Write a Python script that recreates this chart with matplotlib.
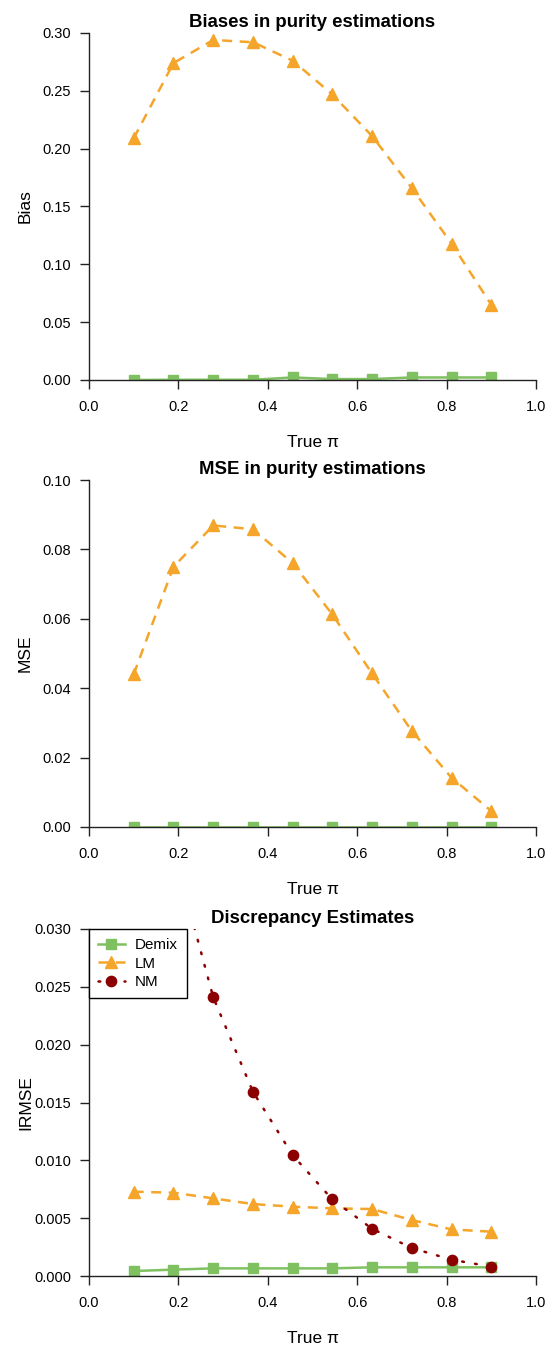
import matplotlib
matplotlib.use("Agg")
import matplotlib.pyplot as plt

plt.rcParams['font.family'] = ['Liberation Sans', 'DejaVu Sans']

true_pi = [0.1, 0.189, 0.278, 0.367, 0.456, 0.544, 0.633, 0.722, 0.811, 0.9]

bias_demix = [0.0, 0.0002, 0.0002, 0.0002, 0.0022, 0.0008, 0.0008, 0.0022, 0.0022, 0.0022]
bias_lm = [0.209, 0.274, 0.294, 0.292, 0.276, 0.247, 0.211, 0.166, 0.118, 0.065]

mse_demix = [0.0001, 0.0001, 0.0001, 0.0001, 0.0001, 0.0001, 0.0001, 0.0001, 0.0001, 0.0001]
mse_lm = [0.044, 0.075, 0.0869, 0.0858, 0.076, 0.0613, 0.0443, 0.0277, 0.0142, 0.0046]

irmse_demix = [0.00043, 0.00055, 0.00066, 0.00066, 0.00066, 0.00066, 0.00075, 0.00075, 0.00075, 0.00075]
irmse_lm = [0.00729, 0.0072, 0.00671, 0.00622, 0.00599, 0.00585, 0.00579, 0.00484, 0.00403, 0.00383]
irmse_nm = [0.0520, 0.0368, 0.02409, 0.01591, 0.01043, 0.00663, 0.00409, 0.00242, 0.00141, 0.00081]

x_ticks = [0.0, 0.2, 0.4, 0.6, 0.8, 1.0]
bias_ticks = [0.00, 0.05, 0.10, 0.15, 0.20, 0.25, 0.30]
mse_ticks = [0.00, 0.02, 0.04, 0.06, 0.08, 0.10]
irmse_ticks = [0.000, 0.005, 0.010, 0.015, 0.020, 0.025, 0.030]

GREEN = '#7FC160'
ORANGE = '#F4A52A'
DARKRED = '#8B0000'

W, H = 557, 1349
fig = plt.figure(figsize=(W / 100, H / 100), dpi=100)

left_px, right_px = 89, 536
panel_h = 347
bottoms = [380, 827, 1276]


def make_ax(bottom_px):
    return fig.add_axes([left_px / W, (H - bottom_px) / H,
                         (right_px - left_px) / W, panel_h / H])


def style(ax, title, ylabel, yticks, ylim, fmt):
    ax.set_xlim(0, 1)
    ax.set_ylim(*ylim)
    for s in ['top', 'right']:
        ax.spines[s].set_visible(False)
    for s in ['left', 'bottom']:
        ax.spines[s].set_linewidth(1.0)
        ax.spines[s].set_color('#222222')
    ax.set_xticks(x_ticks)
    ax.set_xticklabels([f"{t:.1f}" for t in x_ticks])
    ax.set_yticks(yticks)
    ax.set_yticklabels([fmt.format(t) for t in yticks])
    ax.tick_params(axis='both', direction='out', length=6.5, width=1.0,
                   color='#222222', labelsize=10.5)
    ax.tick_params(axis='x', pad=8.0)
    ax.tick_params(axis='y', pad=6.5)
    ax.set_title(title, fontsize=13.4, fontweight='bold', pad=4.5)
    ax.set_xlabel('True π', fontsize=12.5, va='baseline')
    ax.xaxis.set_label_coords(0.5, -67 / panel_h)
    ax.set_ylabel(ylabel, fontsize=12.5, va='center')
    ax.yaxis.set_label_coords(-(89 - 25.5) / (right_px - left_px), 0.5)


lw_solid = 1.8
lw_dash = 1.8
dash = (0, (4, 3))
dot = (0, (0.7, 4.5))

# Panel 1
ax1 = make_ax(bottoms[0])
ax1.plot(true_pi, bias_demix, color=GREEN, lw=lw_solid, marker='s', ms=7.2,
         label='Demix')
ax1.plot(true_pi, bias_lm, color=ORANGE, lw=lw_dash, linestyle=dash,
         marker='^', ms=8.6, label='LM')
style(ax1, 'Biases in purity estimations', 'Bias', bias_ticks, (0, 0.30),
      '{:.2f}')

# Panel 2
ax2 = make_ax(bottoms[1])
ax2.plot(true_pi, mse_demix, color=GREEN, lw=lw_solid, marker='s', ms=7.2)
ax2.plot(true_pi, mse_lm, color=ORANGE, lw=lw_dash, linestyle=dash,
         marker='^', ms=8.6)
style(ax2, 'MSE in purity estimations', 'MSE', mse_ticks, (0, 0.10),
      '{:.2f}')

# Panel 3
ax3 = make_ax(bottoms[2])
ax3.plot(true_pi, irmse_demix, color=GREEN, lw=lw_solid, marker='s', ms=7.2,
         label='Demix')
ax3.plot(true_pi, irmse_lm, color=ORANGE, lw=lw_dash, linestyle=dash,
         marker='^', ms=8.6, label='LM')
ax3.plot(true_pi, irmse_nm, color=DARKRED, lw=1.8, linestyle=dot,
         dash_capstyle='round', marker='o', ms=7.4, label='NM')
style(ax3, 'Discrepancy Estimates', 'IRMSE', irmse_ticks, (0, 0.030),
      '{:.3f}')
leg = ax3.legend(loc='upper left', bbox_to_anchor=(0, 1), borderaxespad=0,
                 fancybox=False, framealpha=1, edgecolor='black',
                 fontsize=10.9, handlelength=1.75, handletextpad=0.7,
                 borderpad=0.6, labelspacing=0.3, numpoints=1)
leg.get_frame().set_linewidth(1.0)

fig.savefig('out.png', dpi=100)
